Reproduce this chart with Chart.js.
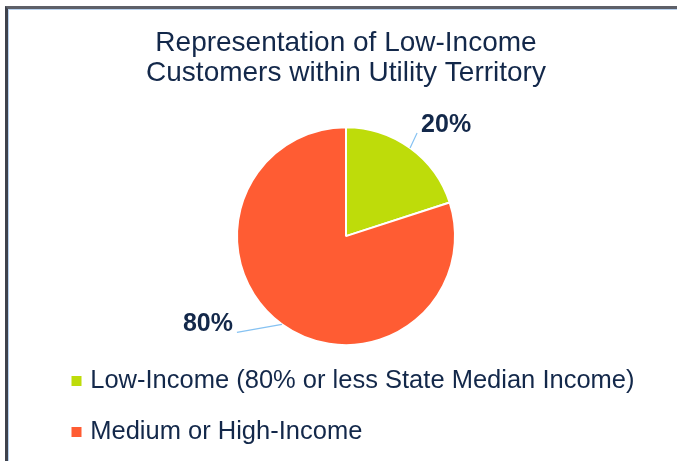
<!DOCTYPE html>
<html>
<head>
<meta charset="utf-8">
<script src="https://cdn.jsdelivr.net/npm/chart.js@4/dist/chart.umd.min.js"></script>
<style>
  html, body { margin: 0; padding: 0; background: #ffffff; }
  #wrap { position: relative; width: 677px; height: 461px; overflow: hidden; }
  #frame {
    position: absolute; left: 5px; top: 6px; width: 700px; height: 480px;
    border-left: 3px solid #3f424c; border-top: 3px solid #5e6068;
    box-shadow: inset 1px 1px 0 #b9d2ee;
  }
  canvas { position: absolute; left: 0; top: 0; }
</style>
</head>
<body>
<div id="wrap">
  <div id="frame"></div>
  <canvas id="pie" width="677" height="461"></canvas>
</div>
<script>
// Customer share by income group (percent of customers)
const categories = ['Low-Income (80% or less State Median Income)', 'Medium or High-Income'];
const shares = [20, 80];
const sliceColors = ['#BEDC0A', '#FF5C33'];
const titleLines = ['Representation of Low-Income', 'Customers within Utility Territory'];

const TEXT = '#13284A';
const FONT = '"Liberation Sans", Arial, sans-serif';

// Where each percentage label sits relative to its slice edge
const labelLayout = [
  { lead: [7, -15], text: [4, -8], align: 'left' },
  { lead: [-45, 8], text: [-4, -8.5], align: 'right' }
];

const sliceLabels = {
  id: 'sliceLabels',
  afterDatasetsDraw(chart) {
    const ctx = chart.ctx;
    const meta = chart.getDatasetMeta(0);
    const values = chart.data.datasets[0].data;
    meta.data.forEach((arc, i) => {
      const p = arc.getProps(['x', 'y', 'startAngle', 'endAngle', 'outerRadius'], true);
      const mid = (p.startAngle + p.endAngle) / 2;
      const ax = p.x + Math.cos(mid) * p.outerRadius;
      const ay = p.y + Math.sin(mid) * p.outerRadius;
      const L = labelLayout[i];
      const ex = ax + L.lead[0];
      const ey = ay + L.lead[1];
      ctx.save();
      ctx.strokeStyle = '#86C2F2';
      ctx.lineWidth = 1.2;
      ctx.beginPath();
      ctx.moveTo(ax, ay);
      ctx.lineTo(ex, ey);
      ctx.stroke();
      ctx.fillStyle = TEXT;
      ctx.font = 'bold 25px ' + FONT;
      ctx.textAlign = L.align;
      ctx.textBaseline = 'middle';
      ctx.fillText(values[i] + '%', ex + L.text[0], ey + L.text[1]);
      ctx.restore();
    });
  }
};

new Chart(document.getElementById('pie'), {
  type: 'pie',
  data: {
    labels: categories,
    datasets: [{
      data: shares,
      backgroundColor: sliceColors,
      borderColor: '#ffffff',
      borderWidth: 2,
      radius: 109
    }]
  },
  options: {
    responsive: false,
    animation: false,
    events: [],
    layout: { padding: { left: 50, right: 35, top: 0, bottom: 6.25 } },
    plugins: {
      title: {
        display: true,
        text: titleLines,
        color: TEXT,
        font: { family: FONT, size: 28, weight: 'normal', lineHeight: '30px' },
        padding: { top: 28, bottom: 41.5 }
      },
      legend: {
        position: 'bottom',
        align: 'start',
        labels: {
          usePointStyle: true,
          pointStyle: 'rect',
          boxWidth: 2,
          boxHeight: 12,
          padding: 25.5,
          color: TEXT,
          font: { family: FONT, size: 25.5 }
        }
      },
      tooltip: { enabled: false }
    }
  },
  plugins: [sliceLabels]
});
</script>
</body>
</html>
